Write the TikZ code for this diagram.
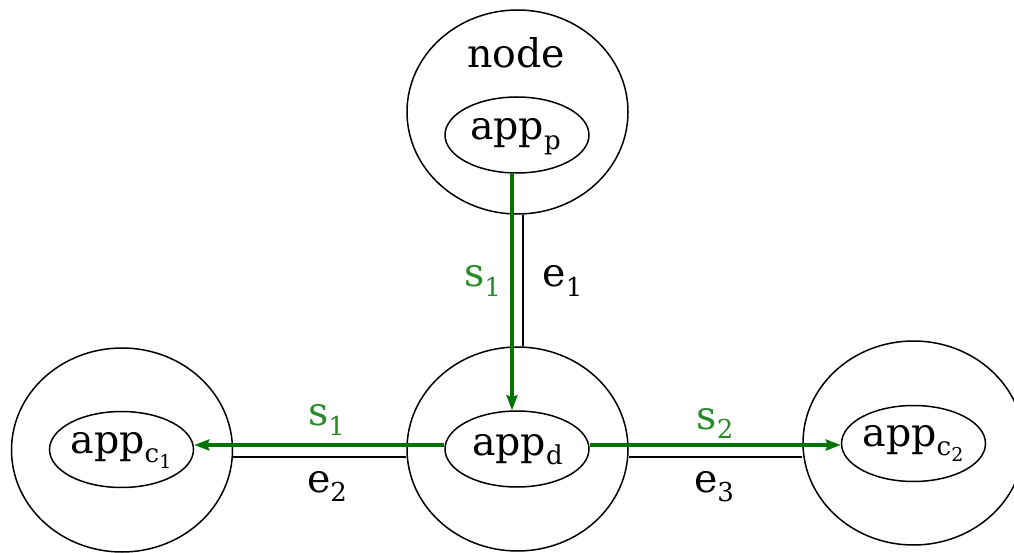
\documentclass[tikz,border=0pt]{standalone}
\usepackage{fontspec}
\setmainfont{DejaVu Serif}
\usetikzlibrary{shapes.geometric,arrows.meta}
\definecolor{sigline}{RGB}{0,115,0}
\definecolor{sigtext}{RGB}{40,138,40}
% subscript helpers
\newcommand{\subtx}[1]{\raisebox{-9.5pt}{\fontsize{26}{26}\selectfont #1}}
\newcommand{\subsubtx}[1]{\raisebox{-5.5pt}{\fontsize{19}{19}\selectfont #1}}
\begin{document}
\begin{tikzpicture}[x=1pt,y=1pt,
  host/.style={draw, ellipse, line width=1.5pt, minimum width=221pt, minimum height=204pt, inner sep=0pt},
  proc/.style={draw, ellipse, line width=1.5pt, minimum width=144pt, minimum height=76pt, inner sep=0pt},
  txt/.style={anchor=base, inner sep=0pt, font=\fontsize{39.5}{39.5}\selectfont},
  lbl/.style={txt},
  siglbl/.style={txt, text=sigtext},
  edge/.style={draw, line width=1.5pt},
  sig/.style={draw=sigline, line width=3.2pt, -{Stealth[length=15pt,width=11pt,inset=2pt]}}
]
\useasboundingbox (0,0) rectangle (1014,552);

% hosts
\node[host] (top)   at (517.5,440) {};
\node[host] (mid)   at (517.5,103) {};
\node[host] (left)  at (122,102) {};
\node[host] (right) at (913.5,109) {};

% processes
\node[proc] (appp)  at (517,417) {};
\node[proc] (appd)  at (517,103) {};
\node[proc] (appc1) at (121.5,102.5) {};
\node[proc] (appc2) at (913.5,108.5) {};

% texts
\node[txt] (nodetxt) at (516,484.7) {node};
\node[txt] (apptp)  at (515.5,412) {app\subtx{p}};
\node[txt] (apptd)  at (517.5,97) {app\subtx{d}};
\node[txt] (apptc1) at (121,99) {app\subtx{c\subsubtx{1}}};
\node[txt] (apptc2) at (913,106) {app\subtx{c\subsubtx{2}}};

% physical links
\draw[edge] ([xshift=5.5pt]top.south) -- ([xshift=5.5pt]top.south |- mid.north);
\draw[edge] ([yshift=-8pt]mid.west) -- ([yshift=-8pt]mid.west -| left.east);
\draw[edge] ([yshift=-8pt]mid.east) -- ([yshift=-8pt]mid.east -| right.west);

% signal flows
\draw[sig] ([xshift=-5pt]appp.south) -- ([xshift=-5pt]appp.south |- appd.north);
\draw[sig] ([yshift=4pt]appd.west) -- ([yshift=4pt]appd.west -| appc1.east);
\draw[sig] ([yshift=4pt]appd.east) -- ([yshift=4pt]appd.east -| appc2.west);

% link labels
\node[lbl] (e1) at (562.5,265) {e\subtx{1}};
\node[lbl] (e2) at (327,60) {e\subtx{2}};
\node[lbl] (e3) at (714,60) {e\subtx{3}};

% signal labels
\node[siglbl] (s1v) at (482.5,265) {s\subtx{1}};
\node[siglbl] (s1h) at (326.5,126.5) {s\subtx{1}};
\node[siglbl] (s2h) at (715,123) {s\subtx{2}};
\end{tikzpicture}
\end{document}
